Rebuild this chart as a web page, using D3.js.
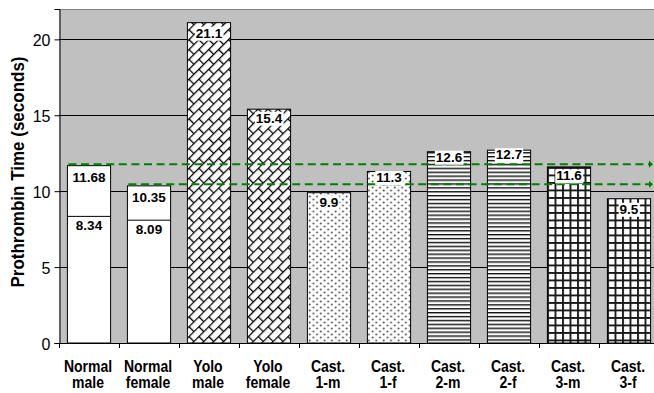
<!DOCTYPE html>
<html><head><meta charset="utf-8">
<script src="https://cdn.jsdelivr.net/npm/d3@7"></script>
<style>
html,body{margin:0;padding:0;background:#fff;}
svg{display:block;font-family:Arial,"Liberation Sans",Helvetica,sans-serif;}
</style></head>
<body><svg id="chart" width="654" height="393"></svg>
<script>
// ---- data ----
const categories = ["Normal male","Normal female","Yolo male","Yolo female","Cast. 1-m","Cast. 1-f","Cast. 2-m","Cast. 2-f","Cast. 3-m","Cast. 3-f"];
const values = [11.68, 10.35, 21.1, 15.4, 9.9, 11.3, 12.6, 12.7, 11.6, 9.5];
const valueLabels = ["11.68","10.35","21.1","15.4","9.9","11.3","12.6","12.7","11.6","9.5"];
const lowerValues = [8.34, 8.09, null, null, null, null, null, null, null, null];
const lowerLabels = ["8.34","8.09"];
const referenceLines = [11.68, 10.35];
const referenceStart = ["Normal male","Normal female"];
const yTicks = [0, 5, 10, 15, 20];
const yMax = 22;
const fills = ["plain","plain","brick","brick","dots","dots","hlines","hlines","grid","grid"];
const labelDy = [16, 16, 15, 13.5, 14, 10.5, 10, 9, 13.5, 15];

// ---- layout ----
const W = 654, H = 393;
const mLeft = 59, mTop = 9, mBottom = 343, mRight = 659;
const svg = d3.select("#chart");
const defs = svg.append("defs");

// patterns
const brick = defs.append("pattern").attr("id","brick").attr("patternUnits","userSpaceOnUse")
  .attr("width",14).attr("height",14).attr("patternTransform","rotate(-45)");
brick.append("rect").attr("width",14).attr("height",14).attr("fill","#fff");
brick.append("path").attr("d","M0,0.6H14M0,7.6H14M0.6,0.6V7.6M7.6,7.6V14.6")
  .attr("stroke","#000").attr("stroke-width",1.3).attr("fill","none");

const dots = defs.append("pattern").attr("id","dots").attr("patternUnits","userSpaceOnUse")
  .attr("width",7.4).attr("height",6).attr("x",1);
dots.append("rect").attr("width",7.4).attr("height",6).attr("fill","#fff");
dots.append("circle").attr("cx",1.6).attr("cy",1.5).attr("r",1).attr("fill","#555");
dots.append("circle").attr("cx",5.3).attr("cy",4.5).attr("r",1).attr("fill","#555");

const hl = defs.append("pattern").attr("id","hlines").attr("patternUnits","userSpaceOnUse")
  .attr("width",4).attr("height",3.9);
hl.append("rect").attr("width",4).attr("height",3.9).attr("fill","#fff");
hl.append("rect").attr("y",0).attr("width",4).attr("height",1.2).attr("fill","#111");
hl.append("rect").attr("y",1.2).attr("width",4).attr("height",0.8).attr("fill","#888");

const grid = defs.append("pattern").attr("id","grid").attr("patternUnits","userSpaceOnUse")
  .attr("width",7.5).attr("height",7.5).attr("x",mLeft+ 8).attr("y",2);
grid.append("rect").attr("width",7.5).attr("height",7.5).attr("fill","#fff");
grid.append("path").attr("d","M1,0V7.5M0,1H7.5").attr("stroke","#000").attr("stroke-width",1.9).attr("stroke-opacity",0.9);

// scales
const x = d3.scaleBand().domain(categories).range([mLeft, mRight]).paddingInner(0.28).paddingOuter(0.14);
const y = d3.scaleLinear().domain([0, yMax]).range([mBottom, mTop]);

// plot background
svg.append("rect").attr("x",mLeft).attr("y",mTop).attr("width",W-mLeft).attr("height",mBottom-mTop).attr("fill","#c0c0c0");
svg.append("line").attr("x1",mLeft).attr("x2",W).attr("y1",mTop+0.5).attr("y2",mTop+0.5).attr("stroke","#808080");

// gridlines
svg.append("g").selectAll("line").data(yTicks.filter(d=>d>0)).join("line")
  .attr("x1",mLeft).attr("x2",W).attr("y1",d=>Math.round(y(d))+0.5).attr("y2",d=>Math.round(y(d))+0.5)
  .attr("stroke","#000").attr("stroke-width",1);

// bars
const bars = svg.append("g");
categories.forEach((c,i)=>{
  const fill = fills[i]==="plain" ? "#fff" : `url(#${fills[i]})`;
  bars.append("rect").attr("x",x(c)).attr("y",y(values[i])).attr("width",x.bandwidth())
    .attr("height",mBottom-y(values[i])).attr("fill",fill).attr("stroke","#000").attr("stroke-width",1);
  if(lowerValues[i]!=null){
    bars.append("line").attr("x1",x(c)).attr("x2",x(c)+x.bandwidth())
      .attr("y1",y(lowerValues[i])).attr("y2",y(lowerValues[i])).attr("stroke","#000");
  }
});

// reference lines
const arrowH = 3.6;
referenceLines.forEach((v,i)=>{
  const yy = y(v)-1.5;
  svg.append("line").attr("x1",x(referenceStart[i])+1).attr("x2",W-4).attr("y1",yy).attr("y2",yy)
    .attr("stroke","#008000").attr("stroke-width",2).attr("stroke-dasharray","8,4.6");
  svg.append("path").attr("d",`M${W-5},${yy-arrowH}L${W-1},${yy}L${W-5},${yy+arrowH}Z`).attr("fill","#008000");
});

// axes
const yAxis = d3.axisLeft(y).tickValues(yTicks).tickSize(5).tickPadding(4).tickFormat(d3.format("d"));
const gy = svg.append("g").attr("transform",`translate(${mLeft+0.5},0)`).call(yAxis);
gy.select(".domain").attr("stroke","#000");
gy.selectAll(".tick line").attr("stroke","#000");
gy.selectAll(".tick text").attr("font-size",16).attr("fill","#000").attr("font-family","Arial, Liberation Sans, sans-serif")
  .attr("dy",null).attr("x",null)
  .attr("transform","translate(-9,6) scale(1,1.07)");

const xAxis = svg.append("g");
xAxis.append("line").attr("x1",mLeft).attr("x2",W).attr("y1",mBottom+0.5).attr("y2",mBottom+0.5).attr("stroke","#000");
const step = x.step();
d3.range(categories.length+1).forEach(k=>{
  const tx = Math.round(mLeft + k*step)+0.5;
  xAxis.append("line").attr("x1",tx).attr("x2",tx).attr("y1",mBottom).attr("y2",mBottom+5).attr("stroke","#000");
});
categories.forEach(c=>{
  const sp = c.indexOf(" ");
  const parts = [c.slice(0,sp), c.slice(sp+1)];
  const cx = x(c)+x.bandwidth()/2 - 1;
  parts.forEach((p,j)=>{
    xAxis.append("text").attr("text-anchor","middle").attr("font-size",14).attr("font-weight","bold")
      .attr("transform",`translate(${cx},${372+j*16}) scale(1,1.12)`).text(p);
  });
});

// y title
svg.append("text").attr("transform",`translate(24,172) rotate(-90) scale(1,1.05)`).attr("text-anchor","middle")
  .attr("font-size",17).attr("font-weight","bold").text("Prothrombin Time (seconds)");

// data labels
const lab = svg.append("g");
function addLabel(cx, baseline, txt){
  const g = lab.append("g");
  const t = g.append("text").attr("x",cx).attr("y",baseline).attr("text-anchor","middle")
    .attr("font-size",13.5).attr("font-weight","bold").text(txt);
  const bb = t.node().getBBox();
  g.insert("rect","text").attr("x",bb.x-1).attr("y",bb.y+1).attr("width",bb.width+2).attr("height",bb.height-1).attr("fill","#fff");
}
categories.forEach((c,i)=>{
  const cx = x(c)+x.bandwidth()/2;
  addLabel(cx, y(values[i])+labelDy[i], valueLabels[i]);
  if(lowerValues[i]!=null) addLabel(cx, y(lowerValues[i])+14, lowerLabels[i]);
});
</script></body></html>
